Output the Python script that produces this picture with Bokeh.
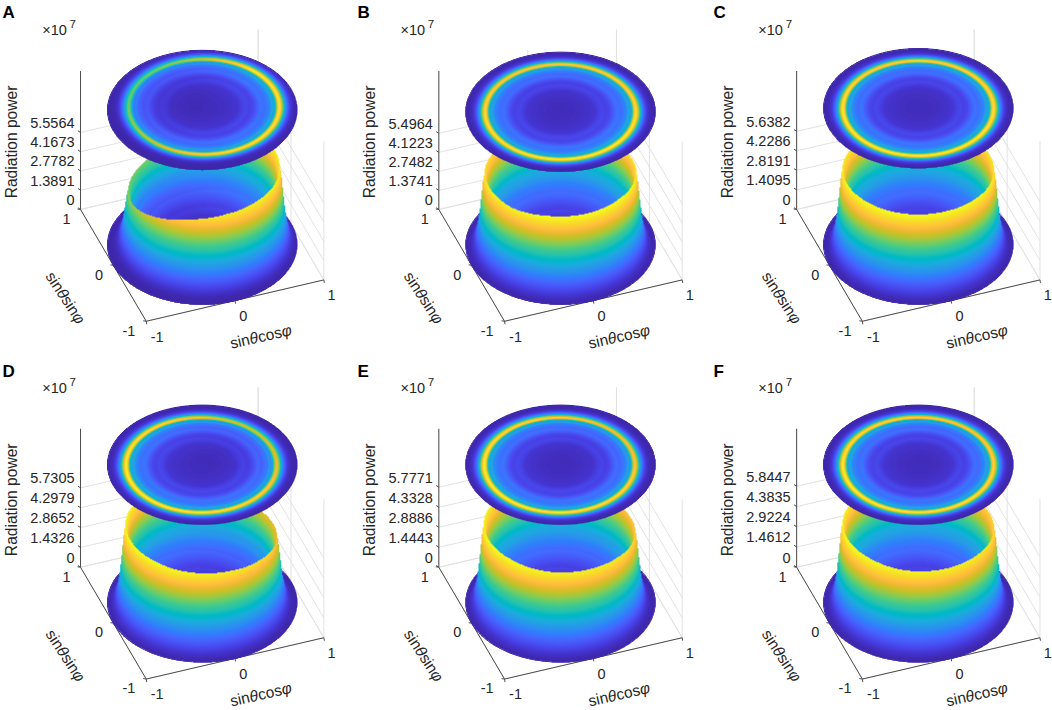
"""
Radiation power surfaces for six cases, projected from 3D onto each panel.
"""
import numpy as np
from bokeh.core.properties import value
from bokeh.embed import file_html
from bokeh.layouts import column, row
from bokeh.models import LinearColorMapper, Range1d
from bokeh.plotting import figure
from bokeh.resources import INLINE

LETTERS = ["A", "B", "C", "D", "E", "F"]

# z tick labels, in units of 1e7
TICKS_A = ["0", "1.3891", "2.7782", "4.1673", "5.5564"]
TICKS_B = ["0", "1.3741", "2.7482", "4.1223", "5.4964"]
TICKS_C = ["0", "1.4095", "2.8191", "4.2286", "5.6382"]
TICKS_D = ["0", "1.4326", "2.8652", "4.2979", "5.7305"]
TICKS_E = ["0", "1.4443", "2.8886", "4.3328", "5.7771"]
TICKS_F = ["0", "1.4612", "2.9224", "4.3835", "5.8447"]
Z_TICKS = [TICKS_A, TICKS_B, TICKS_C, TICKS_D, TICKS_E, TICKS_F]
XY_TICKS = [-1, 0, 1]

# height of the flat map above the floor, in units of 1e7
DISC_LEVEL = [9.73, 9.60, 9.86, 9.95, 9.95, 9.95]

# radial shape of the power, relative to the peak, read along one azimuth
PROFILE_R = [0, .12, .22, .30, .36, .41, .45, .48, .52, .56, .60, .64, .67, .70, .72, .74,
             .76, .78, .80, .82, .84, .86, .88, .90, .92, .95, 1.0, 1.15]
PROFILE_P = [.03, .03, .04, .05, .06, .10, .12, .10, .12, .18, .25, .22, .27, .31, .43, .36,
             .55, .90, 1.0, .82, .58, .36, .22, .12, .06, .02, .005, 0]

# rim height against azimuth, relative to the peak
RIM_PHI = [0, 30, 60, 90, 120, 150, 180, 210, 240, 270, 300, 330]
RIM_A = [.97, 1.0, .85, .70, .65, .65, .70, .80, .90, .95, .97, .96]
RIM_B = [.92, .92, .90, .90, .90, .93, .97, .97, 1.0, 1.0, 1.0, .97]
RIM_C = [.94, .93, .92, .92, .93, .96, .99, 1.0, 1.0, 1.0, .99, .96]
RIM_D = [.80, .78, .82, .90, .95, .98, 1.0, 1.0, .98, .96, .92, .85]
RIM_E = [.86, .85, .88, .92, .94, .98, 1.0, 1.0, .98, .97, .95, .90]
RIM_F = [.90, .88, .90, .92, .94, .97, 1.0, 1.0, .98, .97, .96, .93]
RIMS = [RIM_A, RIM_B, RIM_C, RIM_D, RIM_E, RIM_F]

# where the rings are centred in each case
RING_X = [.037, 0, 0, -.01, -.01, 0]
RING_Y = [.045, 0, 0, 0, 0, 0]

PARULA = [
    (0.2422, 0.1504, 0.6603), (0.2504, 0.1650, 0.7076), (0.2578, 0.1818, 0.7511), (0.2647, 0.1978, 0.7952),
    (0.2706, 0.2147, 0.8364), (0.2751, 0.2342, 0.8710), (0.2783, 0.2559, 0.8991), (0.2803, 0.2782, 0.9221),
    (0.2813, 0.3006, 0.9414), (0.2810, 0.3228, 0.9579), (0.2795, 0.3447, 0.9717), (0.2760, 0.3667, 0.9829),
    (0.2699, 0.3892, 0.9906), (0.2602, 0.4123, 0.9952), (0.2440, 0.4358, 0.9988), (0.2206, 0.4603, 0.9973),
    (0.1963, 0.4847, 0.9892), (0.1834, 0.5074, 0.9798), (0.1786, 0.5289, 0.9682), (0.1764, 0.5499, 0.9520),
    (0.1687, 0.5703, 0.9359), (0.1540, 0.5902, 0.9218), (0.1460, 0.6091, 0.9079), (0.1380, 0.6276, 0.8973),
    (0.1248, 0.6459, 0.8883), (0.1113, 0.6635, 0.8763), (0.0952, 0.6798, 0.8598), (0.0689, 0.6948, 0.8394),
    (0.0297, 0.7082, 0.8163), (0.0036, 0.7203, 0.7917), (0.0067, 0.7312, 0.7660), (0.0433, 0.7411, 0.7394),
    (0.0964, 0.7500, 0.7120), (0.1408, 0.7584, 0.6842), (0.1717, 0.7670, 0.6554), (0.1938, 0.7758, 0.6251),
    (0.2161, 0.7843, 0.5923), (0.2470, 0.7918, 0.5567), (0.2906, 0.7973, 0.5188), (0.3406, 0.8008, 0.4789),
    (0.3909, 0.8029, 0.4354), (0.4456, 0.8024, 0.3909), (0.5044, 0.7993, 0.3480), (0.5616, 0.7942, 0.3045),
    (0.6174, 0.7876, 0.2612), (0.6720, 0.7793, 0.2227), (0.7242, 0.7698, 0.1910), (0.7738, 0.7598, 0.1646),
    (0.8203, 0.7498, 0.1535), (0.8634, 0.7406, 0.1596), (0.9035, 0.7330, 0.1774), (0.9393, 0.7288, 0.2100),
    (0.9728, 0.7298, 0.2394), (0.9956, 0.7434, 0.2371), (0.9970, 0.7659, 0.2199), (0.9952, 0.7893, 0.2028),
    (0.9892, 0.8136, 0.1885), (0.9786, 0.8386, 0.1766), (0.9676, 0.8639, 0.1643), (0.9610, 0.8890, 0.1537),
    (0.9597, 0.9135, 0.1423), (0.9628, 0.9373, 0.1265), (0.9691, 0.9606, 0.1064), (0.9769, 0.9839, 0.0805),
]

# finer steps of the same colour table, so the walls do not show bands
_t = np.linspace(0, 63, 256)
PALETTE = ["#%02x%02x%02x" % tuple(int(round(np.interp(t, range(64), [c[k] for c in PARULA]) * 255)) for k in range(3))
           for t in _t]

# view and page geometry
AZ = np.radians(20.3)
EL = np.radians(39.0)
SCALE = 94.7     # px per unit of x and y
ZPX = 13.85      # px per 1e7 of power
Z_TOP = 10.0
FIG_W = [350, 350, 352]
FIG_H = 355
CENTER_X = [201.7, 210.0, 217.8]
CENTER_Y = [244.2, 247.0]
LETTER_X = [2, 7, 13]
LETTER_Y = [12, 16]
TEXT_DY = -3     # svg text sits a little low against the reference
RES = 3          # image samples per page px

FONT = value("Liberation Sans")
INK = "#262626"
GRID = "#e2e2e2"


def project(x, y, z, cx, cy):
    """Orthographic view, returns page px inside the panel."""
    sx = cx + SCALE * (x * np.cos(AZ) - y * np.sin(AZ))
    sy = cy - SCALE * np.sin(EL) * (x * np.sin(AZ) + y * np.cos(AZ)) - ZPX * z
    return sx, sy


def depth(x, y, z):
    zn = z * ZPX / (SCALE * np.cos(EL))
    return x * np.sin(AZ) * np.cos(EL) - y * np.cos(AZ) * np.cos(EL) + zn * np.sin(EL)


def power_grid(i, r_nodes, phi_nodes):
    rr, pp = np.meshgrid(r_nodes, phi_nodes, indexing="ij")
    x = rr * np.cos(pp)
    y = rr * np.sin(pp)
    peak = float(Z_TICKS[i][-1])
    radial = np.interp(np.hypot(x - RING_X[i], y - RING_Y[i]), PROFILE_R, PROFILE_P)
    rim = np.interp(np.degrees(pp) % 360, RIM_PHI, RIMS[i], period=360)
    return x, y, peak * radial * rim


def surface_image(i, cx, cy):
    """Paint surface then flat map, back to front, into one array of power values."""
    x0 = cx - 98
    w = 196
    y0 = cy - ZPX * Z_TOP - 66
    h = cy + 64 - y0
    arr = np.full((int(h * RES), int(w * RES)), np.nan, dtype=np.float32)

    phi = np.radians(np.linspace(0, 360, 2400))
    r = np.concatenate([np.linspace(0, .55, 400), np.linspace(.55, .94, 3000), np.linspace(.94, 1, 120)])
    x, y, p = power_grid(i, r, phi)
    sx, sy = project(x, y, p, cx, cy)
    order = np.argsort(depth(x, y, p).ravel())
    ix = ((sx.ravel()[order] - x0) * RES).astype(int)
    iy = ((sy.ravel()[order] - y0) * RES).astype(int)
    arr[np.clip(iy, 0, arr.shape[0] - 1), np.clip(ix, 0, arr.shape[1] - 1)] = p.ravel()[order]

    r = np.linspace(0, 1, 800)
    x, y, p = power_grid(i, r, phi)
    sx, sy = project(x, y, np.full_like(p, DISC_LEVEL[i]), cx, cy)
    ix = ((sx.ravel() - x0) * RES).astype(int)
    iy = ((sy.ravel() - y0) * RES).astype(int)
    arr[np.clip(iy, 0, arr.shape[0] - 1), np.clip(ix, 0, arr.shape[1] - 1)] = p.ravel()
    return arr, x0, y0, w, h


def add_math_label(p, cx, cy, angle, pieces, size=15.5):
    """One axis label from plain and italic parts, centred on cx, cy."""
    total = sum(w for _, w, _ in pieces) * size
    px = cx - np.cos(angle) * total / 2
    py = cy + np.sin(angle) * total / 2
    for text, width, style in pieces:
        p.text([px], [py], text=[text], angle=angle, text_font=FONT, text_font_size=f"{size}px",
               text_font_style=style, text_color=INK, text_align="left", text_baseline="middle")
        px += np.cos(angle) * width * size
        py -= np.sin(angle) * width * size


def panel(i):
    col = i % 3
    rw = i // 3
    cx = CENTER_X[col]
    cy = CENTER_Y[rw]
    labels = Z_TICKS[i]
    ticks = [float(t) for t in labels]
    peak = ticks[-1]

    p = figure(width=FIG_W[col], height=FIG_H, x_range=Range1d(0, FIG_W[col]), y_range=Range1d(FIG_H, 0),
               x_axis_type=None, y_axis_type=None, toolbar_location=None, output_backend="svg",
               min_border=0, outline_line_color=None, background_fill_color="white")
    p.grid.visible = False

    # walls and floor of the box
    seg = []
    for z in ticks:
        seg.append(((-1, 1, z), (1, 1, z)))
        seg.append(((1, 1, z), (1, -1, z)))
    for t in XY_TICKS:
        seg.append(((t, 1, 0), (t, 1, Z_TOP)))
        seg.append(((1, t, 0), (1, t, Z_TOP)))
        seg.append(((t, 1, 0), (t, -1, 0)))
        seg.append(((-1, t, 0), (1, t, 0)))
    xs, ys = [], []
    for a, b in seg:
        ax, ay = project(*a, cx, cy)
        bx, by = project(*b, cx, cy)
        xs.append([ax, bx])
        ys.append([ay, by])
    p.multi_line(xs, ys, line_color=GRID, line_width=1)

    # the three dark axes with their ticks
    xs, ys = [], []
    for a, b in [((-1, 1, 0), (-1, 1, Z_TOP)), ((-1, 1, 0), (-1, -1, 0)), ((-1, -1, 0), (1, -1, 0))]:
        ax, ay = project(*a, cx, cy)
        bx, by = project(*b, cx, cy)
        xs.append([ax, bx])
        ys.append([ay, by])
    for z in ticks:
        ax, ay = project(-1, 1, z, cx, cy)
        xs.append([ax, ax - 2.6])
        ys.append([ay, ay - 1.8])
    for t in XY_TICKS:
        ax, ay = project(t, -1, 0, cx, cy)
        xs.append([ax, ax + 0.5])
        ys.append([ay, ay + 3])
        ax, ay = project(-1, t, 0, cx, cy)
        xs.append([ax, ax - 3])
        ys.append([ay, ay - 0.5])
    p.multi_line(xs, ys, line_color="#4d4d4d", line_width=1)

    # soft edges for the discs, floor one goes under the image
    phi = np.radians(np.arange(0, 361, 2))
    fx, fy = project(np.cos(phi), np.sin(phi), 0, cx, cy)
    p.line(fx, fy, line_color=PALETTE[0], line_width=1)

    # surface and flat map share one colour scale
    mapper = LinearColorMapper(palette=PALETTE, low=0, high=peak, nan_color="#00000000")
    arr, x0, y0, w, h = surface_image(i, cx, cy)
    p.image(image=[arr], x=x0, y=y0, dw=w, dh=h, color_mapper=mapper)

    fx, fy = project(np.cos(phi), np.sin(phi), DISC_LEVEL[i], cx, cy)
    p.line(fx, fy, line_color=PALETTE[0], line_width=1)

    # tick labels
    px, py = project(-1, 1, np.array(ticks), cx, cy)
    p.text((px - 6).tolist(), (py - 6.6 + TEXT_DY).tolist(), text=labels, text_font=FONT, text_font_size="14.5px",
           text_color=INK, text_align="right", text_baseline="middle")

    tick_text = [str(t) for t in XY_TICKS]
    px, py = project(np.array(XY_TICKS), -1, 0, cx, cy)
    p.text((px + np.array([11, 8.3, 7.7])).tolist(), (py + 18.4 + TEXT_DY).tolist(), text=tick_text, text_font=FONT,
           text_font_size="14.5px", text_color=INK, text_align="center", text_baseline="middle")
    px, py = project(-1, np.array(XY_TICKS), 0, cx, cy)
    p.text((px + np.array([-17.3, -14.3, -14])).tolist(), (py + 12.3 + TEXT_DY).tolist(), text=tick_text, text_font=FONT,
           text_font_size="14.5px", text_color=INK, text_align="center", text_baseline="middle")

    # axis titles
    ox, oy = project(-1, 1, 0, cx, cy)
    p.text([ox - 69.3], [oy - 67.5], text=["Radiation power"], angle=np.pi / 2, text_font=FONT,
           text_font_size="15.6px", text_color=INK, text_align="center", text_baseline="middle")
    add_math_label(p, ox + 180, oy + 130 + TEXT_DY, 0.225,
                   [("sin", 1.278, "normal"), ("θ", .556, "italic"), ("cos", 1.556, "normal"), ("φ", .62, "italic")])
    add_math_label(p, ox - 15, oy + 91 + TEXT_DY, -0.99,
                   [("sin", 1.278, "normal"), ("θ", .556, "italic"), ("sin", 1.278, "normal"), ("φ", .62, "italic")])

    # exponent and panel letter
    p.text([ox - 38.3], [oy - 176 + TEXT_DY], text=["×10"], text_font=FONT, text_font_size="14.5px", text_color=INK,
           text_align="left", text_baseline="middle")
    p.text([ox - 11], [oy - 182 + TEXT_DY], text=["7"], text_font=FONT, text_font_size="11.5px", text_color=INK,
           text_align="left", text_baseline="middle")
    p.text([LETTER_X[col]], [LETTER_Y[rw]], text=[LETTERS[i]], text_font=FONT, text_font_size="17px",
           text_font_style="bold", text_color="black", text_align="left", text_baseline="alphabetic")
    return p


figs = [panel(i) for i in range(6)]
layout = column(row(*figs[:3], spacing=0), row(*figs[3:], spacing=0), spacing=0)

open("out.html", "w").write(file_html(layout, INLINE))
